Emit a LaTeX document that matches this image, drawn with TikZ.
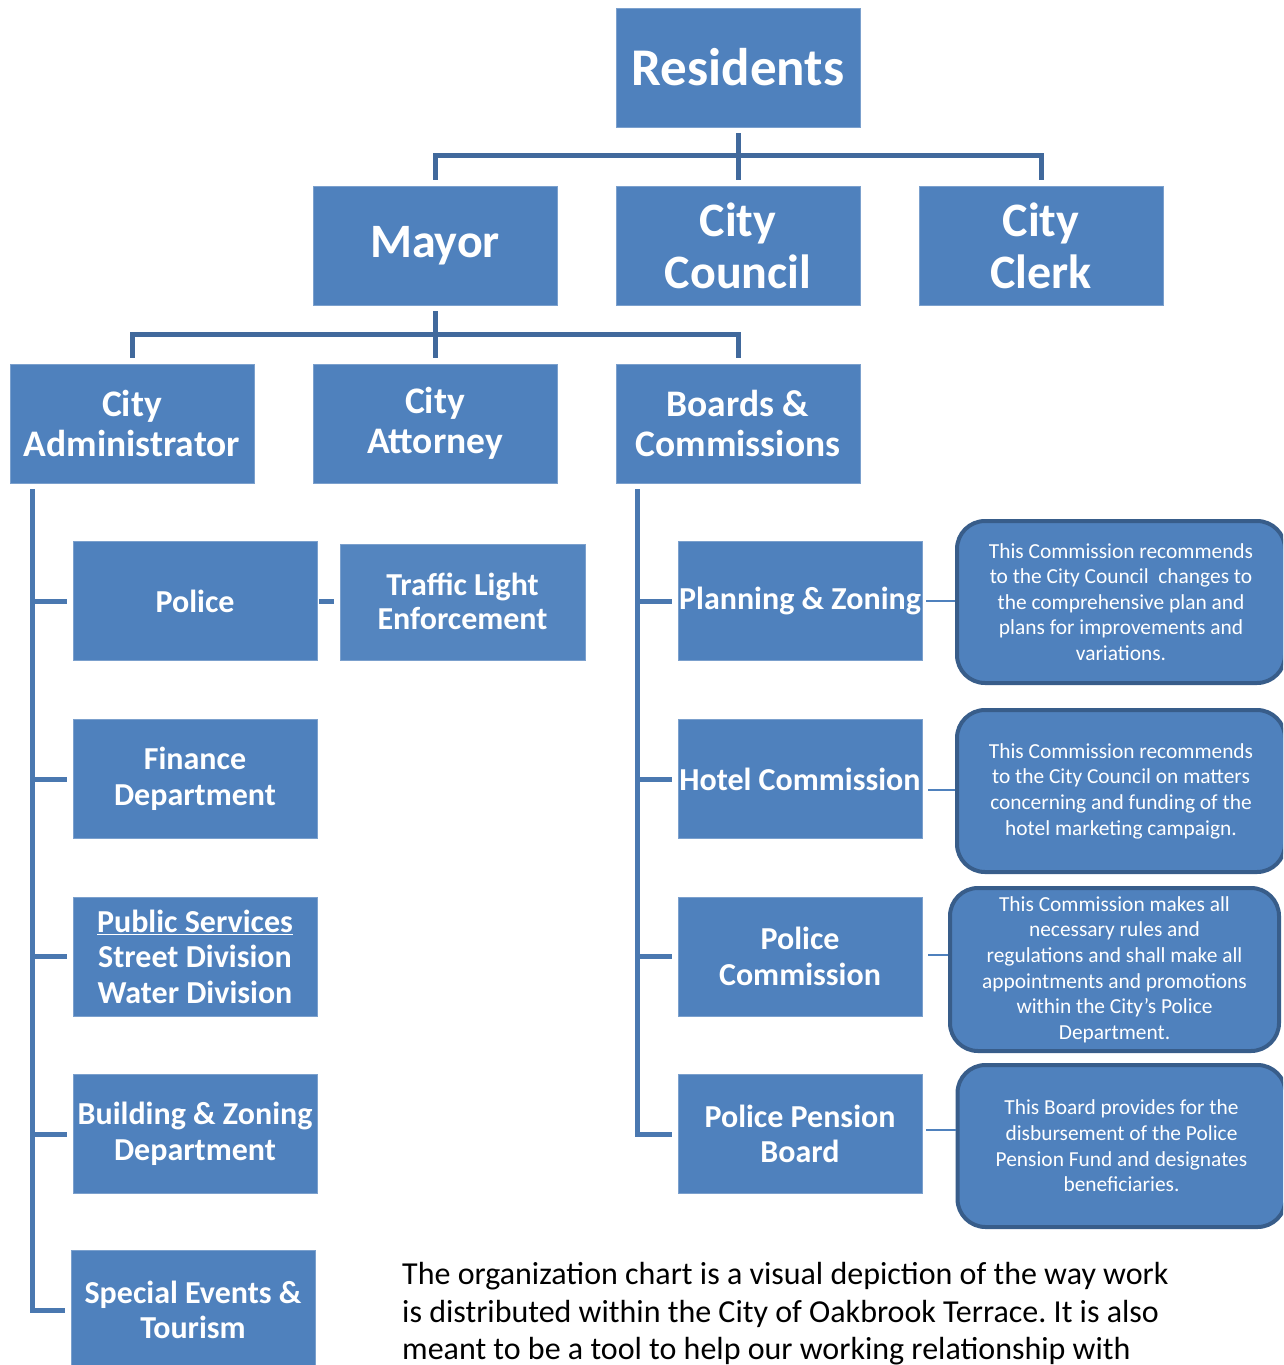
\documentclass[tikz,border=0pt]{standalone}
\usepackage{fontspec}
\setmainfont{Carlito}
\frenchspacing
\definecolor{boxblue}{HTML}{4F81BD}
\definecolor{lineblue}{HTML}{41699C}
\definecolor{trunkblue}{HTML}{4A78B0}
\definecolor{edgeblue}{HTML}{385D8A}
\tikzset{
  box/.style={fill=boxblue, draw=boxblue!75!white, line width=0.8pt,
    minimum width=244pt, minimum height=119pt, inner sep=0pt,
    align=center, text=white},
  fres/.style={font=\bfseries\fontsize{53}{60}\selectfont},
  ftwo/.style={font=\bfseries\fontsize{48}{52}\selectfont},
  fthree/.style={font=\bfseries\fontsize{37.5}{40}\selectfont},
  ffour/.style={font=\bfseries\fontsize{32}{35.5}\selectfont},
  note/.style={fill=boxblue, draw=edgeblue, line width=4pt, rounded corners=28pt,
    align=center, text=white, inner sep=0pt,
    font=\fontsize{21.4}{25.6}\selectfont},
  conn/.style={draw=lineblue, line width=5pt},
  trunk/.style={draw=trunkblue, line width=5pt},
  link/.style={draw=boxblue, line width=2pt},
  para/.style={anchor=base west, inner sep=0pt, text=black,
    font=\fontsize{32}{38}\selectfont}
}
\begin{document}
\begin{tikzpicture}[x=1pt,y=-1pt]
\clip (0,0) rectangle (1283,1365);
\fill[white] (0,0) rectangle (1283,1365);

% top levels
\node[box,fres] (res) at (738,67.5) {Residents};
\node[box,ftwo] (mayor) at (435,245.5) {\raisebox{-3pt}{Mayor}};
\node[box,ftwo] (council) at (738,245.5) {City\\Council};
\node[box,ftwo] (clerk) at (1041,245.5) {City\\Clerk};

\node[box,fthree] (admin) at (132,423.5) {City\\Administrator};
\node[box,fthree] (attorney) at (435,423.5) {City\\Attorney};
\node[box,fthree] (boards) at (738,423.5) {Boards \&\\Commissions};

% left column
\node[box,ffour] (police) at (195,601) {Police};
\node[box,ffour,minimum width=245pt,minimum height=116pt,fill=boxblue!97!white,
  font=\bfseries\fontsize{32}{34}\selectfont] (traffic) at (462.5,602) {\raisebox{2pt}{Traffic Light}\\\raisebox{2pt}{Enforcement}};
\node[box,ffour] (finance) at (195,779) {Finance\\Department};
\node[box,ffour] (pubsvc) at (195,956.5) {\underline{Public Services}\\Street Division\\Water Division};
\node[box,ffour] (building) at (195,1134) {Building \& Zoning\\Department};
\node[box,ffour] (special) at (193,1310) {Special Events \&\\Tourism};

% right column
\node[box,ffour] (planning) at (800,601) {Planning \& Zoning};
\node[box,ffour] (hotel) at (800,779) {Hotel Commission};
\node[box,ffour] (polcom) at (800,956.5) {Police\\Commission};
\node[box,ffour] (pension) at (800,1134) {Police Pension\\Board};

% callouts
\node[note,minimum width=328pt,minimum height=162pt] (c1) at (1121,602)
  {This Commission recommends\\to the City Council\ \ changes to\\the comprehensive plan and\\plans for improvements and\\variations.};
\node[note,minimum width=328pt,minimum height=162pt] (c2) at (1121,791)
  {This Commission recommends\\to the City Council on matters\\concerning and funding of the\\hotel marketing campaign.};
\node[note,minimum width=329pt,minimum height=163pt] (c3) at (1114.5,969.5)
  {This Commission makes all\\necessary rules and\\regulations and shall make all\\appointments and promotions\\within the City’s Police\\Department.};
\node[note,minimum width=328pt,minimum height=162pt] (c4) at (1121.5,1146)
  {This Board provides for the\\disbursement of the Police\\Pension Fund and designates\\beneficiaries.};

% connectors top
\draw[conn] ([yshift=-6pt]res.south) -- ([yshift=6pt]council.north);
\draw[conn] ([yshift=6pt]mayor.north) -- ++(0,-24) -| ([yshift=6pt]clerk.north);
\draw[conn] ([yshift=-6pt]mayor.south) -- ([yshift=6pt]attorney.north);
\draw[conn] ([yshift=6pt]admin.north) -- ++(0,-23) -| ([yshift=6pt]boards.north);

% left trunk
\coordinate (trunkL) at ([xshift=23pt,yshift=-6pt]admin.south west);
\draw[trunk] (trunkL) |- ([xshift=-6pt]special.west);
\foreach \n in {police,finance,pubsvc,building}
  \draw[trunk] (trunkL |- \n.west) -- ([xshift=-6pt]\n.west);
\draw[trunk] ([xshift=2pt]police.east) -- ([xshift=-6pt]traffic.west |- police.east);

% right trunk
\coordinate (trunkR) at ([xshift=22pt,yshift=-6pt]boards.south west);
\draw[trunk] (trunkR) |- ([xshift=-6pt]pension.west);
\foreach \n in {planning,hotel,polcom}
  \draw[trunk] (trunkR |- \n.west) -- ([xshift=-6pt]\n.west);

% callout links
\coordinate (l1) at ([xshift=4pt]planning.east);
\coordinate (l2) at ([xshift=6pt,yshift=-11pt]hotel.east);
\coordinate (l3) at ([xshift=6pt,yshift=2pt]polcom.east);
\coordinate (l4) at ([xshift=4pt,yshift=4pt]pension.east);
\draw[link] (l1) -- (c1.west |- l1);
\draw[link] (l2) -- (c2.west |- l2);
\draw[link] (l3) -- (c3.west |- l3);
\draw[link] (l4) -- (c4.west |- l4);

% bottom paragraph
\node[para] (t1) at (402,1284) {The organization chart is a visual depiction of the way work};
\node[para] (t2) at (402,1322) {is distributed within the City of Oakbrook Terrace. It is also};
\node[para] (t3) at (402,1359) {meant to be a tool to help our working relationship with};
\end{tikzpicture}
\end{document}
